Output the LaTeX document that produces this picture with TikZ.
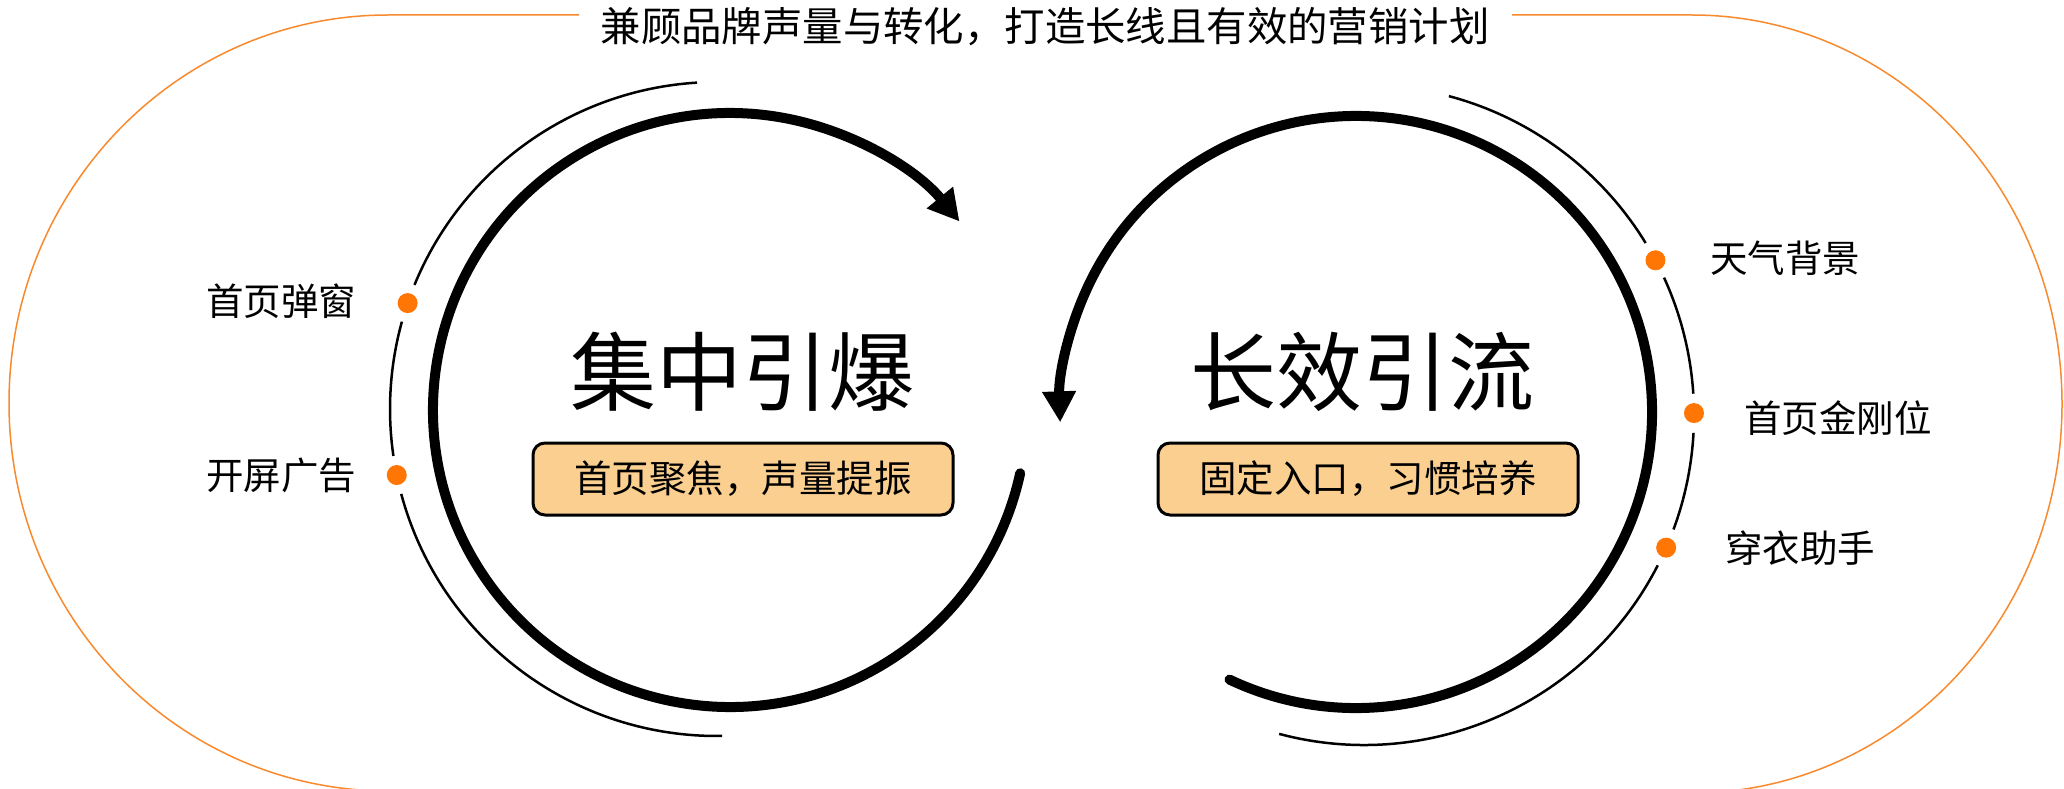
\documentclass[tikz,border=0pt]{standalone}
\usepackage{fontspec}
\setmainfont{Noto Sans CJK SC}
\usetikzlibrary{arrows.meta}
\definecolor{dotorange}{RGB}{255,118,5}
\definecolor{lineorange}{RGB}{248,138,45}
\definecolor{boxfill}{RGB}{251,207,143}
\begin{document}
\begin{tikzpicture}[x=1pt,y=-1pt,
  thickarc/.style={line width=10pt, line cap=round},
  thinarc/.style={line width=2.5pt},
  orangeline/.style={draw=lineorange, line width=1.5pt},
  dotmark/.style={circle, fill=dotorange, minimum size=20pt, inner sep=0pt},
  sidetext/.style={font=\fontsize{37.5}{44}\selectfont, inner sep=0pt},
  titletext/.style={font=\fontsize{40.4}{46}\selectfont, inner sep=0pt},
  bigtext/.style={font=\fontsize{86}{100}\selectfont, inner sep=0pt},
  tagbox/.style={draw=black, line width=3pt, fill=boxfill, rounded corners=12pt,
    minimum width=420pt, minimum height=72pt, inner sep=0pt,
    font=\fontsize{37.5}{44}\selectfont},
  tiphead/.tip={Triangle[length=31pt,width=32pt]}
]
\useasboundingbox (0,0) rectangle (2064,789);
\clip (0,0) rectangle (2064,789);

\coordinate (LC) at (730,410);
\coordinate (RC) at (1356,412);
\coordinate (LT) at (717,409);
\coordinate (RT) at (1364,415);

% title and orange outline
\node[titletext] (title) at (1045,27) {兼顾品牌声量与转化，打造长线且有效的营销计划};
\coordinate (OLa) at (579,15);
\coordinate (OLb) at (388,15);
\coordinate (ORa) at (1512,15);
\coordinate (ORb) at (1692,15);
\draw[orangeline] (OLa) -- (OLb) arc[start angle=270, end angle=92, x radius=379, y radius=388];
\draw[orangeline] (ORa) -- (ORb) arc[start angle=-90, end angle=87, x radius=370, y radius=389];

% thick cycle arcs
\draw[thickarc, -tiphead] ([shift={(12.3:297)}]LC) arc[start angle=12.3, end angle=320.6, radius=297];
\draw[thickarc, -tiphead] ([shift={(115.3:296)}]RC) arc[start angle=115.3, end angle=-182, radius=296];

% thin left arcs
\draw[thinarc] ([shift={(266.5:327)}]LT) arc[start angle=266.5, end angle=202.3, radius=327];
\draw[thinarc] ([shift={(195.5:327)}]LT) arc[start angle=195.5, end angle=171.75, radius=327];
\draw[thinarc] ([shift={(164.95:327)}]LT) arc[start angle=164.95, end angle=89.1, radius=327];

% thin right arcs
\draw[thinarc] ([shift={(-75.1:330)}]RT) arc[start angle=-75.1, end angle=-31.4, radius=330];
\draw[thinarc] ([shift={(-24.6:330)}]RT) arc[start angle=-24.6, end angle=-3.7, radius=330];
\draw[thinarc] ([shift={(3.1:330)}]RT) arc[start angle=3.1, end angle=20.3, radius=330];
\draw[thinarc] ([shift={(27.1:330)}]RT) arc[start angle=27.1, end angle=104.9, radius=330];

% dots
\node[dotmark] (dA) at ([shift={(198.9:327)}]LT) {};
\node[dotmark] (dB) at ([shift={(168.35:327)}]LT) {};
\node[dotmark] (dC) at ([shift={(-27.96:330)}]RT) {};
\node[dotmark] (dD) at ([shift={(-0.34:330)}]RT) {};
\node[dotmark] (dE) at ([shift={(23.7:330)}]RT) {};

% labels
\node[sidetext] (tA) at (281,301) {首页弹窗};
\node[sidetext] (tB) at (281,475) {开屏广告};
\node[sidetext] (tC) at (1785,258) {天气背景};
\node[sidetext] (tD) at (1838,418) {首页金刚位};
\node[sidetext] (tE) at (1800,548) {穿衣助手};

% headings
\node[bigtext] (hL) at (742,372) {集中引爆};
\node[bigtext] (hR) at (1362,372) {长效引流};

% tag boxes
\node[tagbox] (bL) at (743,479) {首页聚焦，声量提振};
\node[tagbox] (bR) at (1368,479) {固定入口，习惯培养};
\end{tikzpicture}
\end{document}
